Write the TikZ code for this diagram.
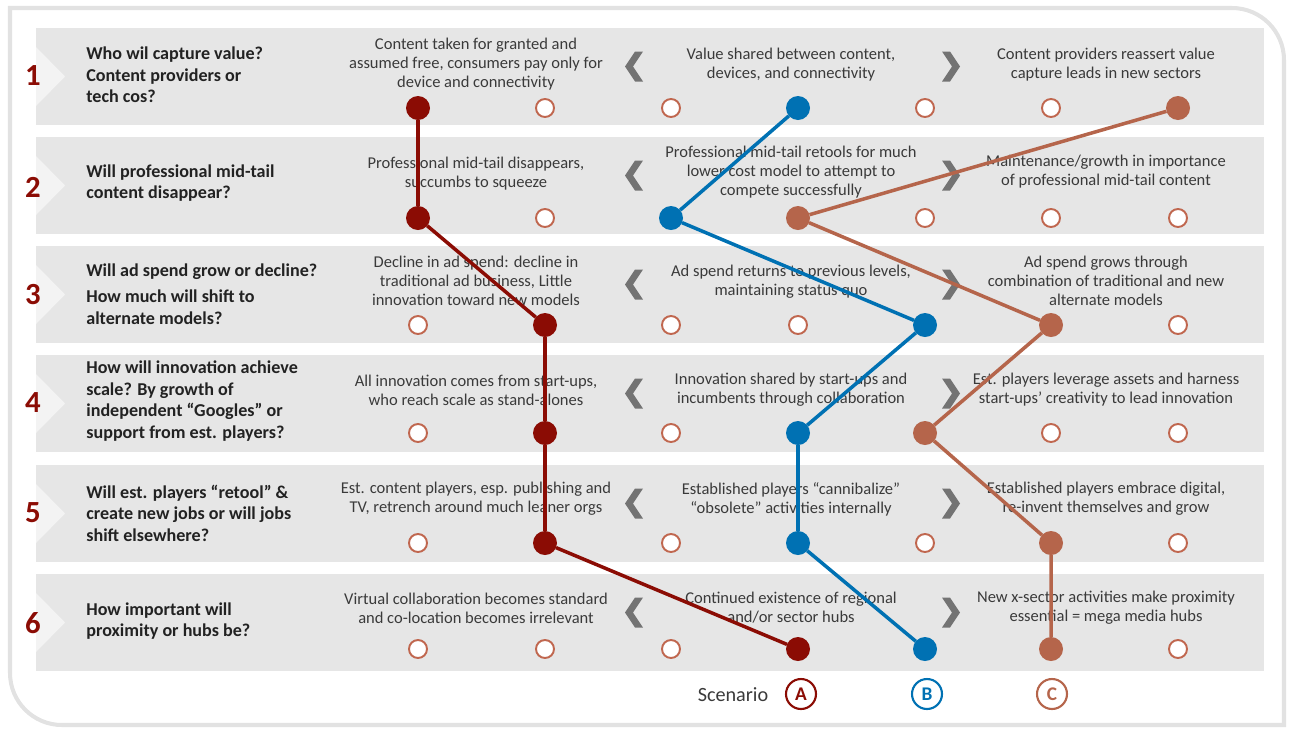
\documentclass[tikz,border=0pt]{standalone}
\usepackage{fontspec}
\setmainfont{Carlito}
\definecolor{bandgray}{HTML}{E6E6E6}
\definecolor{notchgray}{HTML}{F3F3F3}
\definecolor{framegray}{HTML}{E2E2E2}
\definecolor{chevgray}{HTML}{737373}
\definecolor{qgray}{HTML}{222222}
\definecolor{tgray}{HTML}{3A3A3A}
\definecolor{scA}{HTML}{8B0C04}
\definecolor{scB}{HTML}{0071B3}
\definecolor{scC}{HTML}{B5654B}
\definecolor{openring}{HTML}{C0674F}
\tikzset{
  frame/.style={draw=framegray, line width=2.3pt},
  band/.style={fill=bandgray},
  notch/.style={fill=notchgray},
  chev/.style={fill=chevgray},
  qtext/.style={font=\bfseries\fontsize{10.3}{12.2}\selectfont, text=qgray,
    align=left, anchor=west, inner sep=0pt},
  otext/.style={font=\fontsize{9.4}{10.8}\selectfont, text=tgray, align=center, inner sep=0pt},
  rownum/.style={font=\bfseries\fontsize{17.5}{17.5}\selectfont, text=scA, inner sep=0pt},
  opendot/.style={circle, draw=openring, line width=1.1pt, fill=white,
    minimum size=0.36cm, inner sep=0pt, outer sep=0pt},
  fulldot/.style={circle, fill=#1, minimum size=0.48cm, inner sep=0pt, outer sep=0pt},
  route/.style={draw=#1, line width=2pt},
  legdot/.style={circle, draw=#1, line width=1.2pt, text=#1, minimum size=0.6cm,
    inner sep=0pt, font=\bfseries\fontsize{11}{11}\selectfont},
  legtext/.style={font=\fontsize{11.5}{12}\selectfont, text=tgray, inner sep=0pt}
}
\begin{document}
\begin{tikzpicture}[x=0.02cm, y=-0.02cm]
\useasboundingbox (0,0) rectangle (1289,728);

% outer frame: square top-left and bottom-right, rounded top-right and bottom-left
\draw[frame] (10,8) -- (1232,8) arc[start angle=90, end angle=0, radius=1.04cm]
  -- (1284,725) -- (62,725) arc[start angle=270, end angle=180, radius=1.04cm] -- cycle;

% row bands with notch and the two chevrons between the option columns
\foreach \t in {28,137,246,355,465,574}{
  \fill[band] (36,\t) rectangle (1264,\t+97);
  \fill[notch] (36,\t+19) -- (65,\t+48.5) -- (36,\t+78) -- cycle;
  \fill[chev] (625,\t+38.5) -- ++(10,-15) -- ++(8,0) -- ++(-10,15) -- ++(10,15) -- ++(-8,0) -- cycle;
  \fill[chev] (960,\t+38.5) -- ++(-10,-15) -- ++(-8,0) -- ++(10,15) -- ++(-10,15) -- ++(8,0) -- cycle;
}

% row numbers
\node[rownum] (n1) at (33,76) {1};
\node[rownum] (n2) at (33,187) {2};
\node[rownum] (n3) at (33,295) {3};
\node[rownum] (n4) at (33,403) {4};
\node[rownum] (n5) at (33,513) {5};
\node[rownum] (n6) at (33,623) {6};

% questions
\node[qtext] (q1) at (86,75) {Who wil capture value?\\Content providers or\\tech cos?};
\node[qtext] (q2) at (86,183) {Will professional mid-tail\\content disappear?};
\node[qtext] (q3) at (86,294) {Will ad spend grow or decline?\\[3pt]How much will shift to\\alternate models?};
\node[qtext] (q4) at (86,401) {How will innovation achieve\\scale? By growth of\\independent “Googles” or\\support from est. players?};
\node[qtext] (q5) at (86,513) {Will est. players “retool” \&\\create new jobs or will jobs\\shift elsewhere?};
\node[qtext] (q6) at (86,621) {How important will\\proximity or hubs be?};

% options, row 1
\node[otext] (o11) at (476,64) {Content taken for granted and\\assumed free, consumers pay only for\\device and connectivity};
\node[otext] (o12) at (791,65) {Value shared between content,\\devices, and connectivity};
\node[otext] (o13) at (1106,65) {Content providers reassert value\\capture leads in new sectors};
% row 2
\node[otext] (o21) at (476,174) {Professional mid-tail disappears,\\succumbs to squeeze};
\node[otext] (o22) at (791,172) {Professional mid-tail retools for much\\lower cost model to attempt to\\compete successfully};
\node[otext] (o23) at (1106,172) {Maintenance/growth in importance\\of professional mid-tail content};
% row 3
\node[otext] (o31) at (476,281) {Decline in ad spend: decline in\\traditional ad business, Little\\innovation toward new models};
\node[otext] (o32) at (791,282) {Ad spend returns to previous levels,\\maintaining status quo};
\node[otext] (o33) at (1106,281) {Ad spend grows through\\combination of traditional and new\\alternate models};
% row 4
\node[otext] (o41) at (476,390) {All innovation comes from start-ups,\\who reach scale as stand-alones};
\node[otext] (o42) at (791,390) {Innovation shared by start-ups and\\incumbents through collaboration};
\node[otext] (o43) at (1106,390) {Est. players leverage assets and harness\\start-ups’ creativity to lead innovation};
% row 5
\node[otext] (o51) at (476,499) {Est. content players, esp. publishing and\\TV, retrench around much leaner orgs};
\node[otext] (o52) at (791,499) {Established players “cannibalize”\\“obsolete” activities internally};
\node[otext] (o53) at (1106,499) {Established players embrace digital,\\re-invent themselves and grow};
% row 6
\node[otext] (o61) at (476,608) {Virtual collaboration becomes standard\\and co-location becomes irrelevant};
\node[otext] (o62) at (791,608) {Continued existence of regional\\and/or sector hubs};
\node[otext] (o63) at (1106,608) {New x-sector activities make proximity\\essential = mega media hubs};

% position markers: row / y / column chosen by scenario A / B / C
\foreach \r/\y/\a/\b/\c in {1/108/1/4/7, 2/218/1/3/4, 3/325/2/5/6, 4/433/2/4/5, 5/543/2/4/6, 6/649/4/5/6}{
  \foreach \k/\x in {1/418,2/545,3/671,4/798,5/925,6/1051,7/1178}{
    \ifnum\k=\a
      \node[fulldot=scA] (d\r\k) at (\x,\y) {};
    \else\ifnum\k=\b
      \node[fulldot=scB] (d\r\k) at (\x,\y) {};
    \else\ifnum\k=\c
      \node[fulldot=scC] (d\r\k) at (\x,\y) {};
    \else
      \node[opendot] (d\r\k) at (\x,\y) {};
    \fi\fi\fi
  }
}

% scenario routes
\draw[route=scA] (d11) -- (d21) -- (d32) -- (d42) -- (d52) -- (d64);
\draw[route=scB] (d14) -- (d23) -- (d35) -- (d44) -- (d54) -- (d65);
\draw[route=scC] (d17) -- (d24) -- (d36) -- (d45) -- (d56) -- (d66);

% legend
\node[legtext] (scen) at (733,695) {Scenario};
\node[legdot=scA] (legA) at (801,694) {A};
\node[legdot=scB] (legB) at (927,694) {B};
\node[legdot=scC] (legC) at (1052,694) {C};
\end{tikzpicture}
\end{document}
